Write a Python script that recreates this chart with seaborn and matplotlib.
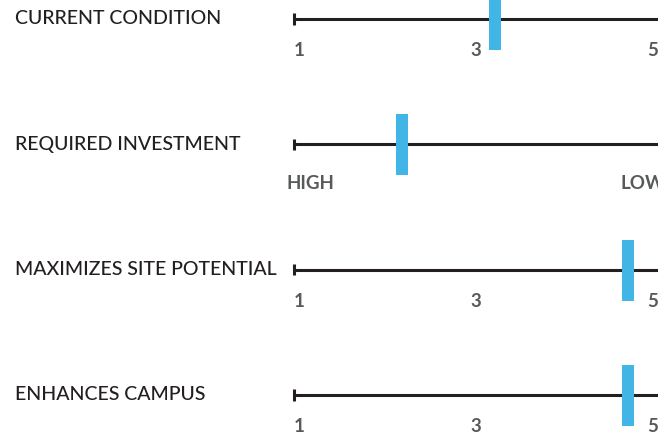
import matplotlib
matplotlib.use("Agg")
import matplotlib.pyplot as plt
import seaborn as sns
import pandas as pd
import numpy as np
from matplotlib.path import Path

# ---- data ----
criteria = ["CURRENT CONDITION", "REQUIRED INVESTMENT",
            "MAXIMIZES SITE POTENTIAL", "ENHANCES CAMPUS"]
scores = [3.25, 2.2, 4.75, 4.75]
tick_positions = [1, 3, 5]
tick_labels_numeric = ["1", "3", "5"]
tick_labels_investment = ["HIGH", "LOW"]
scale_min, scale_max = 1, 5

sns.set_theme(style="white")
plt.rcParams["font.family"] = ["Lato", "DejaVu Sans"]

W, H = 658, 432
fig = plt.figure(figsize=(W / 100, H / 100), dpi=100)
ax = fig.add_axes([0, 0, 1, 1])

# pixel mapping helpers for limits
px_per_unit = 88.5
x_at_1 = 296
row_px0, row_gap = 19, 125.3
ax.set_xlim(scale_min - x_at_1 / px_per_unit, scale_min + (W - x_at_1) / px_per_unit)
ax.set_ylim((H - row_px0) / row_gap, -row_px0 / row_gap)
ax.axis("off")

df = pd.DataFrame({"criterion": criteria, "score": scores,
                   "row": np.arange(len(criteria))})

# axis lines with start cap
for r in df["row"]:
    ax.plot([scale_min - 2 / px_per_unit, scale_max + 1], [r, r], color="#231f20", lw=2.2,
            solid_capstyle="butt", zorder=1)
    ax.plot([scale_min - 2 / px_per_unit] * 2, [r - 0.045, r + 0.045], color="#231f20",
            lw=2.2, solid_capstyle="butt", zorder=1)

# rectangular bar marker
bw, bh = 12, 61
rect = Path([(-bw / 2, -bh / 2), (bw / 2, -bh / 2), (bw / 2, bh / 2),
             (-bw / 2, bh / 2), (-bw / 2, -bh / 2)],
            [Path.MOVETO, Path.LINETO, Path.LINETO, Path.LINETO, Path.CLOSEPOLY])
size_pt = bh * 72 / 100
sns.scatterplot(data=df, x="score", y="row", marker=rect, s=size_pt ** 2,
                color="#41b6e6", linewidth=0, ax=ax, zorder=3, legend=False)

# row labels
for r, name in zip(df["row"], df["criterion"]):
    ax.text(scale_min - (x_at_1 - 15) / px_per_unit, r, name, ha="left",
            va="center", fontsize=14, color="#231f20", fontweight="medium")

# tick labels
off_num = 32 / row_gap
off_word = 39 / row_gap
for r in df["row"]:
    if r == 1:
        ax.text(scale_min - 9 / px_per_unit, r + off_word, tick_labels_investment[0],
                ha="left", va="center", fontsize=13.5, fontweight="bold", color="#58595b")
        ax.text(scale_max - 29 / px_per_unit, r + off_word, tick_labels_investment[1],
                ha="left", va="center", fontsize=13.5, fontweight="bold", color="#58595b")
    else:
        for p, lab in zip(tick_positions, tick_labels_numeric):
            ax.text(p + 3 / px_per_unit, r + off_num, lab, ha="center", va="center",
                    fontsize=13.5, fontweight="bold", color="#58595b")

fig.savefig("out.png", dpi=100)
